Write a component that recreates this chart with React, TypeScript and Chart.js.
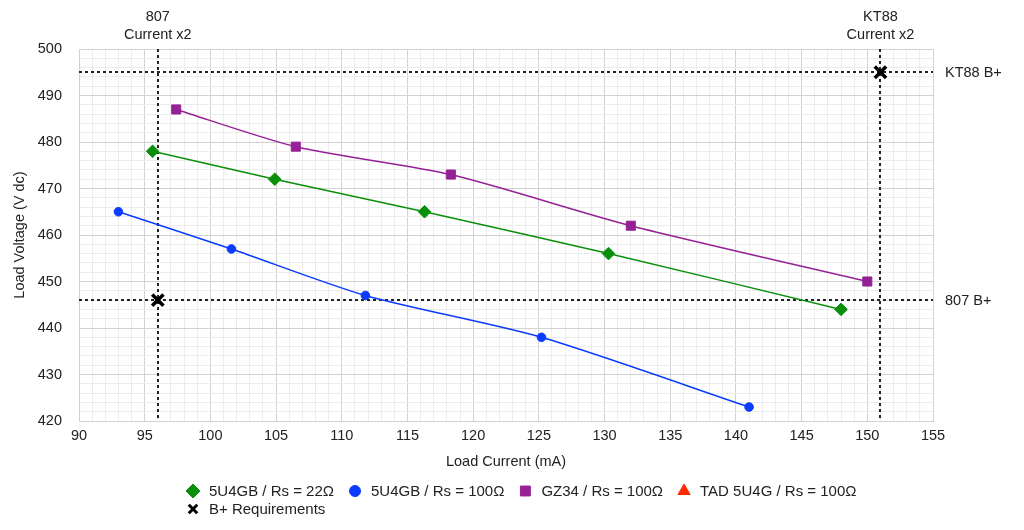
import React, { useRef, useEffect } from 'react';
import Chart from 'chart.js/auto';
import { drawPoint } from 'chart.js/helpers';

// measured rectifier curves: load current (mA) vs load voltage (V dc)
const gb22Current = [95.6, 104.9, 116.3, 130.3, 148.0];
const gb22Voltage = [478, 472, 465, 456, 444];
const gb100Current = [93.0, 101.6, 111.8, 125.2, 141.0];
const gb100Voltage = [465, 457, 447, 438, 423];
const gz34Current = [97.4, 106.5, 118.3, 132.0, 150.0];
const gz34Voltage = [487, 479, 473, 462, 450];
const tadCurrent: number[] = [];
const tadVoltage: number[] = [];

// B+ requirements per output tube
const reqTubes = ['807', 'KT88'];
const reqCurrent = [96, 151];
const reqVoltage = [446, 495];

const currentRange = [90, 155];
const voltageRange = [420, 500];

const FONT = "'Liberation Sans', Arial, Helvetica, sans-serif";
const TEXT = '#222222';
const MAJOR = '#d2d2d2';
const MINOR = '#ececec';

const toPoints = (xs: number[], ys: number[]) => xs.map((x, i) => ({ x, y: ys[i] }));

const series = [
    { label: '5U4GB / Rs = 22Ω', color: '#0a8f0a', style: 'rectRot', radius: 6.3, legendRadius: 7, xs: gb22Current, ys: gb22Voltage },
    { label: '5U4GB / Rs = 100Ω', color: '#0a3cff', style: 'circle', radius: 4.3, legendRadius: 5.5, xs: gb100Current, ys: gb100Voltage },
    { label: 'GZ34 / Rs = 100Ω', color: '#962096', style: 'rect', radius: 6.4, legendRadius: 7, xs: gz34Current, ys: gz34Voltage },
    { label: 'TAD 5U4G / Rs = 100Ω', color: '#ff2a00', style: 'triangle', radius: 6, legendRadius: 7, xs: tadCurrent, ys: tadVoltage },
];

const legendItems = [
    ...series.map(s => ({ label: s.label, color: s.color, style: s.style, radius: s.legendRadius, width: 0 })),
    { label: 'B+ Requirements', color: '#000000', style: 'crossRot', radius: 6, width: 3 },
];

const guidePlugin = {
    id: 'guides',
    beforeDatasetsDraw(chart: any) {
        const { ctx, chartArea, scales } = chart;
        ctx.save();
        ctx.strokeStyle = '#222';
        ctx.lineWidth = 2;
        ctx.setLineDash([3, 3]);
        reqCurrent.forEach(c => {
            const px = Math.round(scales.x.getPixelForValue(c));
            ctx.beginPath();
            ctx.moveTo(px, chartArea.top);
            ctx.lineTo(px, chartArea.bottom);
            ctx.stroke();
        });
        reqVoltage.forEach(v => {
            const py = Math.round(scales.y.getPixelForValue(v));
            ctx.beginPath();
            ctx.moveTo(chartArea.left, py);
            ctx.lineTo(chartArea.right, py);
            ctx.stroke();
        });
        ctx.restore();
    },
    afterDraw(chart: any) {
        const { ctx, chartArea, scales } = chart;
        ctx.save();
        ctx.fillStyle = TEXT;
        ctx.font = `14.5px ${FONT}`;
        ctx.textBaseline = 'middle';
        ctx.textAlign = 'center';
        reqTubes.forEach((tube, i) => {
            const px = scales.x.getPixelForValue(reqCurrent[i]);
            ctx.fillText(tube, px, chartArea.top - 32);
            ctx.fillText('Current x2', px, chartArea.top - 14);
        });
        ctx.textAlign = 'left';
        reqTubes.forEach((tube, i) => {
            const py = scales.y.getPixelForValue(reqVoltage[i]);
            ctx.fillText(`${tube} B+`, chartArea.right + 12, py + 1);
        });

        // legend: rows left aligned, wrapped
        ctx.font = `15px ${FONT}`;
        const startX = 193;
        const maxX = 900;
        let x = startX;
        let y = 491;
        legendItems.forEach(item => {
            const w = ctx.measureText(item.label).width;
            if (x + 16 + w > maxX) {
                x = startX;
                y += 18;
            }
            ctx.fillStyle = item.color;
            ctx.strokeStyle = item.color;
            ctx.lineWidth = item.width || 1;
            drawPoint(ctx, { pointStyle: item.style as any, radius: item.radius, borderWidth: item.width || 1, rotation: 0 }, x, y);
            ctx.fillStyle = TEXT;
            ctx.fillText(item.label, x + 16, y + 1);
            x += 16 + w + 21;
        });
        ctx.restore();
    },
};

export default function App() {
    const canvasRef = useRef<HTMLCanvasElement>(null);

    useEffect(() => {
        document.body.style.margin = '0';
        let chart: Chart | undefined;
        if (canvasRef.current) {
            const ctx = canvasRef.current.getContext('2d');
            if (ctx) {
                const datasets: any[] = series.map(s => ({
                    label: s.label,
                    data: toPoints(s.xs, s.ys),
                    showLine: true,
                    borderColor: s.color,
                    backgroundColor: s.color,
                    borderWidth: 1.5,
                    tension: 0.25,
                    pointStyle: s.style,
                    pointRadius: s.radius,
                    pointBorderWidth: 1,
                }));
                datasets.push({
                    label: 'B+ Requirements',
                    data: toPoints(reqCurrent, reqVoltage),
                    showLine: false,
                    borderColor: '#000',
                    backgroundColor: '#000',
                    pointStyle: 'crossRot',
                    pointRadius: 8,
                    pointBorderWidth: 3.5,
                });

                chart = new Chart(ctx, {
                    type: 'scatter',
                    data: { datasets },
                    options: {
                        responsive: false,
                        animation: false,
                        layout: { padding: { top: 49, right: 91, bottom: 59, left: 0 } },
                        plugins: {
                            legend: { display: false },
                            tooltip: { enabled: false },
                        },
                        scales: {
                            x: {
                                type: 'linear',
                                min: currentRange[0],
                                max: currentRange[1],
                                afterFit: (scale: any) => { scale.height = 50; },
                                border: { display: true, color: MAJOR },
                                grid: {
                                    drawTicks: false,
                                    color: (c: any) => (c.tick && c.tick.value % 5 === 0 ? MAJOR : MINOR),
                                },
                                ticks: {
                                    stepSize: 1,
                                    autoSkip: false,
                                    maxRotation: 0,
                                    padding: 6,
                                    color: TEXT,
                                    font: { family: FONT, size: 14.5 },
                                    callback: (v: any) => (v % 5 === 0 ? String(v) : ''),
                                },
                                title: {
                                    display: true,
                                    text: 'Load Current (mA)',
                                    color: TEXT,
                                    font: { family: FONT, size: 14.5 },
                                    padding: { top: 0, bottom: 0 },
                                },
                            },
                            y: {
                                type: 'linear',
                                min: voltageRange[0],
                                max: voltageRange[1],
                                afterFit: (scale: any) => { scale.width = 79; },
                                border: { display: true, color: MAJOR },
                                grid: {
                                    drawTicks: false,
                                    color: (c: any) => (c.tick && c.tick.value % 10 === 0 ? MAJOR : MINOR),
                                },
                                ticks: {
                                    stepSize: 2,
                                    autoSkip: false,
                                    padding: 17,
                                    color: TEXT,
                                    font: { family: FONT, size: 14.5 },
                                    callback: (v: any) => (v % 10 === 0 ? String(v) : ''),
                                },
                                title: {
                                    display: true,
                                    text: 'Load Voltage (V dc)',
                                    color: TEXT,
                                    font: { family: FONT, size: 14.5 },
                                    padding: { top: 11, bottom: 0 },
                                },
                            },
                        },
                    },
                    plugins: [guidePlugin],
                });
            }
        }
        return () => {
            if (chart) {
                chart.destroy();
            }
        };
    }, []);

    return (
        <div style={{ width: 1024, height: 530 }}>
            <canvas ref={canvasRef} width={1024} height={530} style={{ display: 'block' }}></canvas>
        </div>
    );
}
